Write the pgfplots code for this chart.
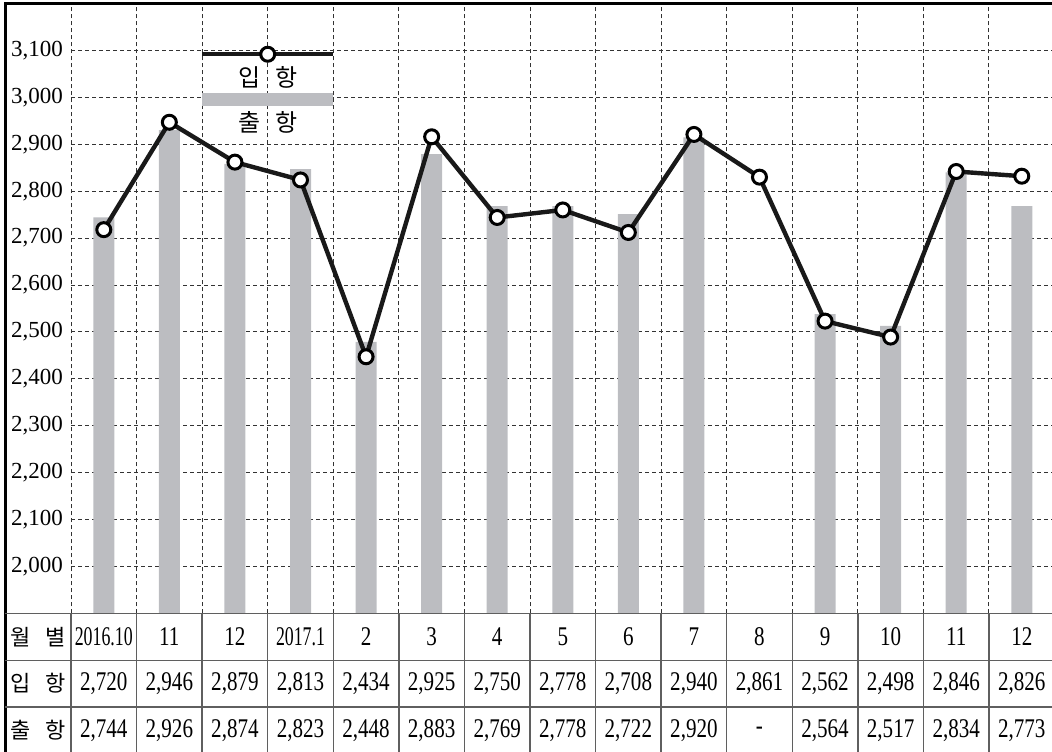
\documentclass[border=0pt]{standalone}
\usepackage{fontspec}
\setmainfont{Liberation Serif}
\newfontfamily\numfont[FakeStretch=0.78]{Liberation Serif}
\newfontfamily\numfontc[FakeStretch=0.66]{Liberation Serif}
\newfontfamily\kr{Noto Sans CJK KR}
\usepackage{pgfplots}
\usepackage{pgfplotstable}
\pgfplotsset{compat=1.18}

\definecolor{barcol}{RGB}{188,189,193}
\definecolor{rulecol}{RGB}{95,95,95}

% month index, 입항 (line), 출항 (bars) as drawn in the chart
\pgfplotstableread{
x  in    out
0  2718  2744
1  2947  2930
2  2862  2858
3  2824  2847
4  2447  2479
5  2916  2879
6  2744  2768
7  2760  2768
8  2712  2751
9  2921  2915
10 2830  nan
11 2523  2538
12 2489  2513
13 2842  2840
14 2832  2768
}\portdata

\tikzset{
  num/.style={font=\numfont\fontsize{13.5}{15}\selectfont, inner sep=0pt, anchor=center},
  numc/.style={font=\numfontc\fontsize{13.5}{15}\selectfont, inner sep=0pt, anchor=center},
  lab/.style={font=\kr\fontsize{11}{13}\selectfont, inner sep=0pt, anchor=center},
}

\begin{document}
\begin{tikzpicture}
\begin{axis}[
  x=32.785pt, y=0.2345pt,
  xmin=-0.5, xmax=14.5,
  ymin=1900, ymax=3200,
  axis line style={draw=none},
  major tick length=0pt,
  xtick={-0.5,0.5,...,13.5},
  xticklabels={},
  ytick={2000,2100,...,3100},
  yticklabel style={font=\fontsize{11.5}{13}\selectfont, xshift=-0.5pt},
  /pgf/number format/1000 sep={,},
  /pgf/number format/assume math mode=true,
  xmajorgrids, ymajorgrids,
  grid style={black!80, line width=0.5pt, dash pattern=on 2pt off 1.5pt},
  clip mode=individual,
]
  % bars: 출항
  \addplot[ybar, bar width=10.5pt, fill=barcol, draw=none]
    table[x=x, y=out] {\portdata};
  % line: 입항
  \addplot[black!90, line width=2.2pt, mark=*, mark size=3.5pt,
    mark options={fill=white, draw=black, line width=1.5pt}]
    table[x=x, y=in] {\portdata};

  % legend samples
  \addplot[black!90, line width=2pt, mark=*, mark size=3.5pt, mark indices={2},
    mark options={fill=white, draw=black, line width=1.5pt}, forget plot]
    coordinates {(1.5,3092) (2.5,3092) (3.5,3092)};
  \addplot[barcol, line width=6.5pt, forget plot]
    coordinates {(1.5,2995.5) (3.5,2995.5)};
  \node[font=\kr\fontsize{12}{14}\selectfont] at (axis cs:2.5,3042) {입\hspace{7.5pt}항};
  \node[font=\kr\fontsize{12}{14}\selectfont] at (axis cs:2.5,2947) {출\hspace{7.5pt}항};

  % frame
  \draw[line width=1.6pt] (axis cs:-1.5,1500) -- (axis cs:-1.5,3200) -- (axis cs:14.6,3200);

  % table rules
  \draw[rulecol, line width=0.7pt] (axis cs:-1.5,1900) -- (axis cs:14.6,1900);
  \draw[rulecol, line width=0.7pt] (axis cs:-1.5,1800) -- (axis cs:14.6,1800);
  \draw[rulecol, line width=0.7pt] (axis cs:-1.5,1700) -- (axis cs:14.6,1700);
  \draw[rulecol, line width=0.7pt] (axis cs:-1.5,1600) -- (axis cs:14.6,1600);
  \pgfplotsinvokeforeach{-0.5,0.5,...,13.5}{
    \draw[rulecol, line width=0.7pt] (axis cs:#1,1900) -- (axis cs:#1,1500);
  }

  % row labels
  \node[lab] at (axis cs:-1,1850) {월\hspace{7pt}별};
  \node[lab] at (axis cs:-1,1750) {입\hspace{7pt}항};
  \node[lab] at (axis cs:-1,1650) {출\hspace{7pt}항};

  % row 1: months
  \node[numc] at (axis cs:0,1850) {2016.10};
  \node[num] at (axis cs:1,1850) {11};
  \node[num] at (axis cs:2,1850) {12};
  \node[numc] at (axis cs:3,1850) {2017.1};
  \node[num] at (axis cs:4,1850) {2};
  \node[num] at (axis cs:5,1850) {3};
  \node[num] at (axis cs:6,1850) {4};
  \node[num] at (axis cs:7,1850) {5};
  \node[num] at (axis cs:8,1850) {6};
  \node[num] at (axis cs:9,1850) {7};
  \node[num] at (axis cs:10,1850) {8};
  \node[num] at (axis cs:11,1850) {9};
  \node[num] at (axis cs:12,1850) {10};
  \node[num] at (axis cs:13,1850) {11};
  \node[num] at (axis cs:14,1850) {12};

  % row 2: 입항
  \node[num] at (axis cs:0,1750) {2,720};
  \node[num] at (axis cs:1,1750) {2,946};
  \node[num] at (axis cs:2,1750) {2,879};
  \node[num] at (axis cs:3,1750) {2,813};
  \node[num] at (axis cs:4,1750) {2,434};
  \node[num] at (axis cs:5,1750) {2,925};
  \node[num] at (axis cs:6,1750) {2,750};
  \node[num] at (axis cs:7,1750) {2,778};
  \node[num] at (axis cs:8,1750) {2,708};
  \node[num] at (axis cs:9,1750) {2,940};
  \node[num] at (axis cs:10,1750) {2,861};
  \node[num] at (axis cs:11,1750) {2,562};
  \node[num] at (axis cs:12,1750) {2,498};
  \node[num] at (axis cs:13,1750) {2,846};
  \node[num] at (axis cs:14,1750) {2,826};

  % row 3: 출항
  \node[num] at (axis cs:0,1650) {2,744};
  \node[num] at (axis cs:1,1650) {2,926};
  \node[num] at (axis cs:2,1650) {2,874};
  \node[num] at (axis cs:3,1650) {2,823};
  \node[num] at (axis cs:4,1650) {2,448};
  \node[num] at (axis cs:5,1650) {2,883};
  \node[num] at (axis cs:6,1650) {2,769};
  \node[num] at (axis cs:7,1650) {2,778};
  \node[num] at (axis cs:8,1650) {2,722};
  \node[num] at (axis cs:9,1650) {2,920};
  \node[num] at (axis cs:10,1650) {-};
  \node[num] at (axis cs:11,1650) {2,564};
  \node[num] at (axis cs:12,1650) {2,517};
  \node[num] at (axis cs:13,1650) {2,834};
  \node[num] at (axis cs:14,1650) {2,773};

  \coordinate (bbll) at (axis cs:-1.583,1604.3);
  \coordinate (bbur) at (axis cs:14.461,3207.7);
\end{axis}
\pgfresetboundingbox
\path[use as bounding box] (bbll) rectangle (bbur);
\end{tikzpicture}
\end{document}
